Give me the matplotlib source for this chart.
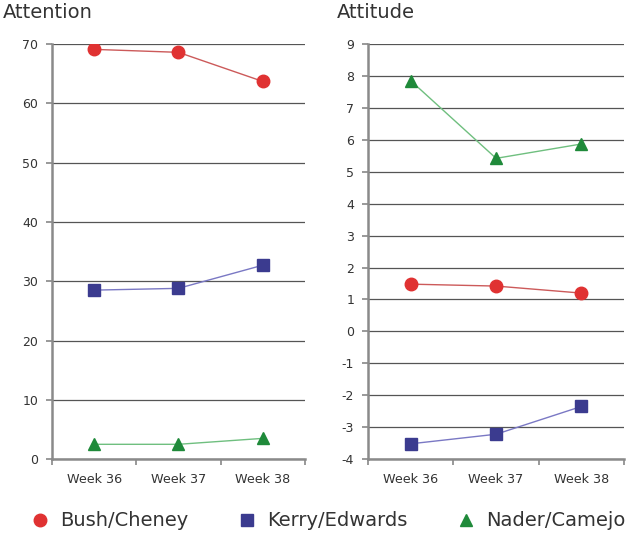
import matplotlib
matplotlib.use("Agg")
import matplotlib.pyplot as plt
from matplotlib.lines import Line2D

weeks = ["Week 36", "Week 37", "Week 38"]
series = ["Bush/Cheney", "Kerry/Edwards", "Nader/Camejo"]

attention_bush = [69.1, 68.6, 63.7]
attention_kerry = [28.5, 28.8, 32.7]
attention_nader = [2.5, 2.5, 3.5]

attitude_bush = [1.48, 1.42, 1.2]
attitude_kerry = [-3.52, -3.22, -2.35]
attitude_nader = [7.85, 5.42, 5.87]

attention_ticks = list(range(0, 71, 10))
attitude_ticks = list(range(-4, 10))

marker_colors = ["#e03232", "#3b3b8f", "#1f8a3a"]
line_colors = ["#cc5a5a", "#7a78c4", "#6fbf7f"]
markers = ["o", "s", "^"]
msizes = [9, 8, 9]

plt.rcParams["font.family"] = ["DejaVu Sans"]

fig = plt.figure(figsize=(6.26, 5.37), dpi=100)
ax1 = fig.add_axes([0.083, 0.145, 0.404, 0.773])
ax2 = fig.add_axes([0.588, 0.145, 0.409, 0.773])


def style_axis(ax, ticks):
    x = range(len(weeks))
    ax.set_xlim(-0.5, len(weeks) - 0.5)
    ax.set_ylim(ticks[0], ticks[-1])
    ax.set_yticks(ticks)
    ax.set_yticklabels([str(t) for t in ticks])
    ax.set_xticks(list(x))
    ax.set_xticklabels(weeks)
    ax.set_xticks([i - 0.5 for i in range(len(weeks) + 1)], minor=True)
    ax.tick_params(axis="x", which="major", length=0, pad=10, labelsize=9.2, colors="#333333")
    ax.tick_params(axis="x", which="minor", length=4, width=1.2, color="#888888")
    ax.tick_params(axis="y", length=4, width=1.2, color="#888888", labelsize=9,
                   labelcolor="#333333", pad=6)
    for side in ["top", "right"]:
        ax.spines[side].set_visible(False)
    for side in ["left", "bottom"]:
        ax.spines[side].set_color("#8a8a8a")
        ax.spines[side].set_linewidth(1.8)
    ax.yaxis.grid(True, color="#555555", linewidth=0.9)
    ax.set_axisbelow(True)


for ax, data, ticks in [
    (ax1, [attention_bush, attention_kerry, attention_nader], attention_ticks),
    (ax2, [attitude_bush, attitude_kerry, attitude_nader], attitude_ticks),
]:
    style_axis(ax, ticks)
    for vals, mc, lc, m, ms in zip(data, marker_colors, line_colors, markers, msizes):
        ax.plot(range(len(weeks)), vals, color=lc, linewidth=1.0, zorder=3)
        ax.plot(range(len(weeks)), vals, linestyle="none", marker=m, markersize=ms,
                markerfacecolor=mc, markeredgecolor=mc, zorder=4)

fig.text(0.005, 0.976, "Attention", fontsize=14, color="#333333", va="center", ha="left")
fig.text(0.538, 0.976, "Attitude", fontsize=14, color="#333333", va="center", ha="left")

handles = [Line2D([], [], linestyle="none", marker=m, markersize=ms, markerfacecolor=mc,
                  markeredgecolor=mc)
           for m, ms, mc in zip(markers, msizes, marker_colors)]
fig.legend(handles, series, loc="center left", bbox_to_anchor=(0.0455, 0.030), ncol=3,
           frameon=False, fontsize=14, handletextpad=0.44, columnspacing=2.4,
           handlelength=1.2, borderpad=0, borderaxespad=0, labelcolor="#333333")

fig.savefig("out.png", dpi=100)
